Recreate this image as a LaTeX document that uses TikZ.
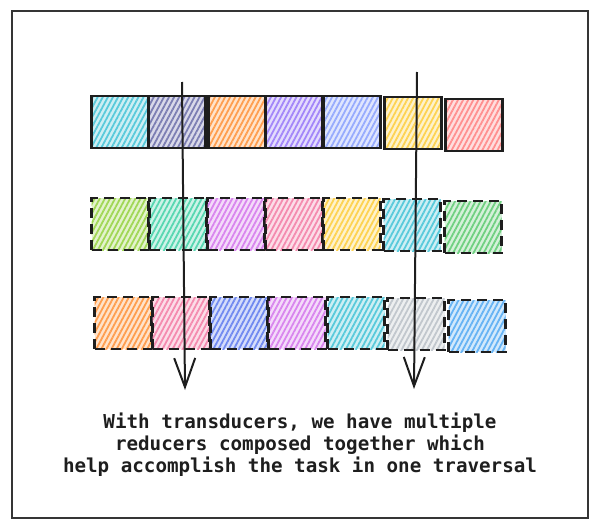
\documentclass[tikz,border=0pt]{standalone}
\usepackage{fontspec}
\setmonofont{DejaVu Sans Mono}
\usetikzlibrary{patterns.meta,arrows.meta}

% open-color like palette
\definecolor{ocCyan}{HTML}{22B8CF}
\definecolor{ocSlate}{HTML}{50539A}
\definecolor{ocOrange}{HTML}{FD7E14}
\definecolor{ocViolet}{HTML}{845EF7}
\definecolor{ocIndigoL}{HTML}{748FFC}
\definecolor{ocYellow}{HTML}{FCC419}
\definecolor{ocRed}{HTML}{FF6B6B}
\definecolor{ocLime}{HTML}{82C91E}
\definecolor{ocTeal}{HTML}{20C997}
\definecolor{ocGrape}{HTML}{CC5DE8}
\definecolor{ocPink}{HTML}{F06595}
\definecolor{ocGreen}{HTML}{40C057}
\definecolor{ocIndigo}{HTML}{4263EB}
\definecolor{ocGray}{HTML}{ADB5BD}
\definecolor{ocBlue}{HTML}{339AF0}
\definecolor{ink}{HTML}{1E1E1E}

\tikzset{
	cell/.style={minimum width=57pt,minimum height=52pt,inner sep=0pt,
		line width=2.2pt,draw=ink,
		preaction={fill=#1!22},
		pattern={Lines[angle=62,distance=4.5pt,line width=1.8pt]},pattern color=#1!75},
	solidcell/.style={cell=#1},
	dashcell/.style={cell=#1,dash pattern=on 10pt off 6pt},
	pass/.style={line width=2pt,draw=ink,
		-{Straight Barb[length=29pt,width=21pt,line width=2pt]}}
}

\begin{document}
\begin{tikzpicture}[x=1pt,y=-1pt]
	\useasboundingbox (0,0) rectangle (600,530);
	\draw[line width=1.5pt,draw=ink!90] (12,11) rectangle (588,518);

	% first row
	\foreach \x/\y/\c [count=\i] in {120/122/ocCyan,177/122/ocSlate,237/122/ocOrange,
		294/122/ocViolet,352/122/ocIndigoL,413/123/ocYellow,474/125/ocRed}
		\node[solidcell=\c] (r\i) at (\x,\y) {};
	% second row
	\foreach \x/\y/\c [count=\i] in {120/224/ocLime,178/224/ocTeal,236/224/ocGrape,
		294/224/ocPink,352/224/ocYellow,412/225/ocCyan,473/227/ocGreen}
		\node[dashcell=\c] (s\i) at (\x,\y) {};
	% third row
	\foreach \x/\y/\c [count=\i] in {123/323/ocOrange,181/323/ocPink,239/323/ocIndigo,
		297/323/ocGrape,356/323/ocCyan,416/324/ocGray,477/326/ocBlue}
		\node[dashcell=\c] (t\i) at (\x,\y) {};

	% traversal arrows
	\coordinate (ltop) at (182,82);
	\coordinate (lbot) at (185,390);
	\coordinate (rtop) at (417,72);
	\coordinate (rbot) at (414,389);
	\draw[pass] (ltop) -- (lbot);
	\draw[pass] (rtop) -- (rbot);

	\node[font=\ttfamily\bfseries\fontsize{19.2}{22}\selectfont,align=center,text=ink]
		(caption) at (300,445) {With transducers, we have multiple\\
		reducers composed together which\\
		help accomplish the task in one traversal};
\end{tikzpicture}
\end{document}
